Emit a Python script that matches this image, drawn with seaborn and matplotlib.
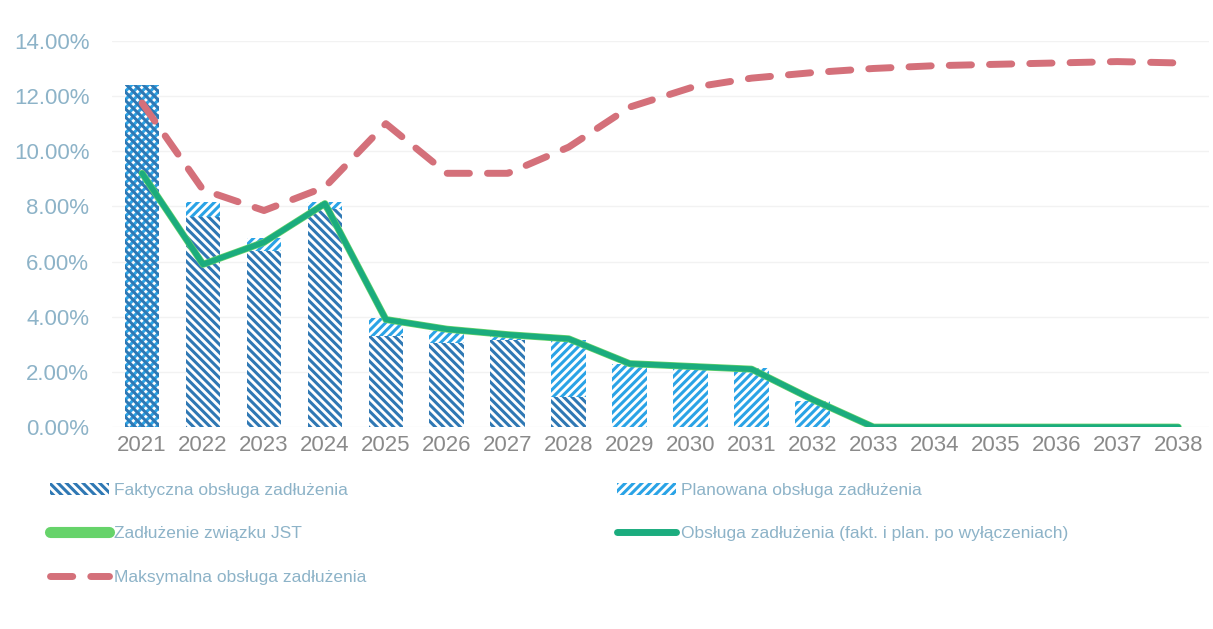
import numpy as np
import pandas as pd
import matplotlib.pyplot as plt
import seaborn as sns
from matplotlib.patches import Patch
from matplotlib.lines import Line2D
from matplotlib.ticker import FuncFormatter

sns.set_style('white')
plt.rcParams['font.family'] = ['Liberation Sans', 'DejaVu Sans']
plt.rcParams['hatch.linewidth'] = 2.2

years = [str(y) for y in range(2021, 2039)]
faktyczna = [12.4, 7.6, 6.4, 7.9, 3.3, 3.05, 3.15, 1.1, 0, 0, 0, 0, 0, 0, 0, 0, 0, 0]
planowana = [12.4, 8.15, 6.85, 8.15, 3.95, 3.5, 3.3, 3.15, 2.3, 2.15, 2.15, 0.95, 0, 0, 0, 0, 0, 0]
zadluzenie_jst = [9.2, 5.9, 6.7, 8.1, 3.9, 3.55, 3.35, 3.2, 2.3, 2.2, 2.1, 1.0, 0, 0, 0, 0, 0, 0]
obsluga_po_wyl = [9.2, 5.9, 6.7, 8.1, 3.9, 3.55, 3.35, 3.2, 2.3, 2.2, 2.1, 1.0, 0, 0, 0, 0, 0, 0]
maksymalna = [11.75, 8.6, 7.85, 8.7, 11.0, 9.2, 9.2, 10.15, 11.6, 12.3, 12.65, 12.85, 13.0,
              13.1, 13.15, 13.2, 13.25, 13.2]

c_fakt = '#2f78b4'
c_plan = '#2aa3e6'
c_jst = '#66d36a'
c_obs = '#1bac7e'
c_max = '#d4707a'
c_txt = '#8db3c8'

df = pd.DataFrame({'rok': years, 'fakt': faktyczna, 'plan': planowana,
                   'jst': zadluzenie_jst, 'obs': obsluga_po_wyl, 'max': maksymalna})
pos = np.arange(len(years))

fig = plt.figure(figsize=(12.13, 6.29), dpi=100)
ax = fig.add_axes([0.092, 0.321, 0.9045, 0.614])

sns.barplot(data=df, x='rok', y='plan', color='white', edgecolor=c_plan, hatch='////',
            linewidth=0, width=0.57, ax=ax, zorder=2)
n_plan = len(ax.patches)
sns.barplot(data=df, x='rok', y='fakt', color='white', edgecolor=c_fakt, hatch='\\\\\\\\',
            linewidth=0, width=0.57, ax=ax, zorder=3)
# pierwszy słupek przepuszcza kreskowanie spod spodu
ax.patches[0].set_facecolor('none')
ax.patches[n_plan].set_facecolor('none')

sns.lineplot(x=pos, y=df['max'], color=c_max, linewidth=5, ax=ax, zorder=4,
             dashes=False)
ax.lines[-1].set_dashes([3.2, 2.6])
ax.lines[-1].set_dash_capstyle('round')
sns.lineplot(x=pos, y=df['jst'], color=c_jst, linewidth=5, ax=ax, zorder=5)
sns.lineplot(x=pos, y=df['obs'], color=c_obs, linewidth=4, ax=ax, zorder=6)

ax.set_xlim(-0.5, len(years) - 0.5)
ax.set_ylim(0, 14)
ax.set_yticks(np.arange(0, 15, 2))
ax.yaxis.set_major_formatter(FuncFormatter(lambda v, _: f'{v:.2f}%'))
ax.yaxis.grid(True, color='#f2f2f2', linewidth=1)
ax.set_axisbelow(True)
ax.set_xlabel('')
ax.set_ylabel('')
ax.tick_params(axis='y', labelsize=16, labelcolor=c_txt, length=0, pad=16)
ax.tick_params(axis='x', labelsize=16, labelcolor='#8a8a8a', length=0, pad=6)
sns.despine(ax=ax, left=True, bottom=True)

handles = [
    Patch(facecolor='none', edgecolor=c_fakt, hatch='\\\\\\\\', linewidth=0),
    Line2D([], [], color=c_jst, linewidth=8),
    Line2D([], [], color=c_max, linewidth=5, dashes=[3.2, 2.6], dash_capstyle='round'),
    Patch(facecolor='none', edgecolor=c_plan, hatch='////', linewidth=0),
    Line2D([], [], color=c_obs, linewidth=5, solid_capstyle='round'),
]
labels = [
    'Faktyczna obsługa zadłużenia',
    'Zadłużenie związku JST',
    'Maksymalna obsługa zadłużenia',
    'Planowana obsługa zadłużenia',
    'Obsługa zadłużenia (fakt. i plan. po wyłączeniach)',
]
leg = fig.legend(handles, labels, ncol=2, loc='upper left',
                 bbox_to_anchor=(50 / 1213, 1 - 483 / 629), bbox_transform=fig.transFigure,
                 frameon=False, fontsize=12.5, handlelength=3.4, handleheight=0.7,
                 handletextpad=0.3, labelspacing=1.62, columnspacing=14.4,
                 borderpad=0, borderaxespad=0)
for t in leg.get_texts():
    t.set_color(c_txt)

fig.savefig('out.png', dpi=100, facecolor='white')
